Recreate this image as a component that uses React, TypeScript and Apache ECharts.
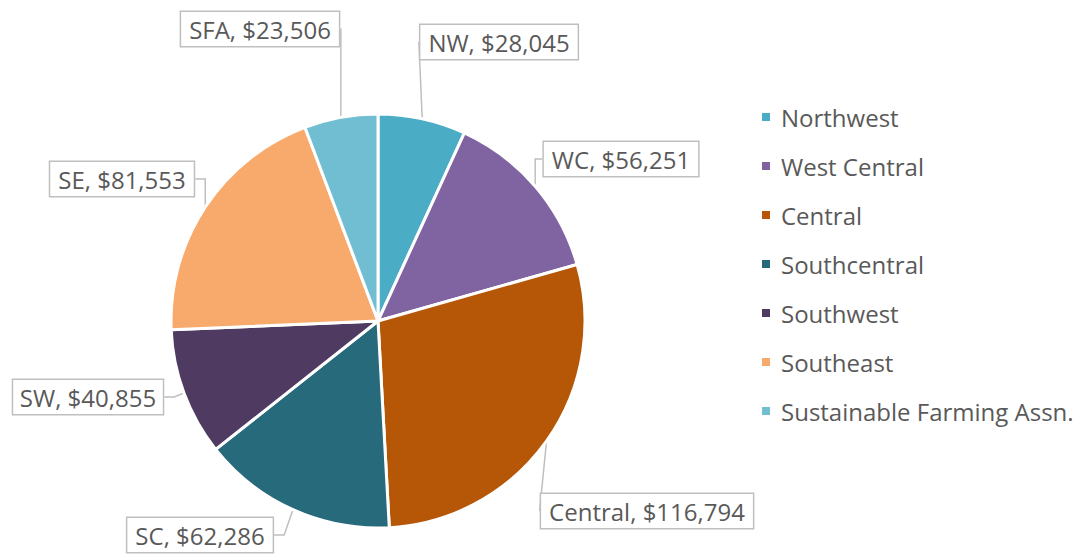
import React, { useEffect, useRef } from "react";
import * as echarts from "echarts";

const regions = ["Northwest", "West Central", "Central", "Southcentral", "Southwest", "Southeast", "Sustainable Farming Assn."];
const shortNames = ["NW", "WC", "Central", "SC", "SW", "SE", "SFA"];
const values = [28045, 56251, 116794, 62286, 40855, 81553, 23506];
const colors = ["#4BACC6", "#8064A2", "#B65708", "#276A7C", "#4F3B62", "#F8AA6C", "#71BDD1"];
// label box centres (layout only)
const labelCenters = [
  [499, 42],
  [621, 159],
  [647, 511],
  [200, 535],
  [88, 397],
  [122, 179],
  [260, 29],
];

export default function App() {
  const ref = useRef<HTMLDivElement>(null);
  useEffect(() => {
    const chart = echarts.init(ref.current!, null, { renderer: "svg" });
    const font = "Open Sans";
    chart.setOption({
      animation: false,
      color: colors,
      legend: {
        orient: "vertical",
        left: 755,
        top: 100,
        itemWidth: 10,
        itemHeight: 10,
        itemGap: 25,
        icon: "rect",
        textStyle: { fontFamily: font, fontSize: 24, color: "#595959", padding: [0, 0, 0, 5] },
        data: regions,
      },
      series: [
        {
          type: "pie",
          center: [378, 321],
          radius: 207,
          startAngle: 90,
          clockwise: true,
          itemStyle: { borderColor: "#fff", borderWidth: 3 },
          label: {
            show: true,
            position: "outside",
            overflow: "none",
            fontFamily: font,
            fontSize: 24,
            color: "#595959",
            backgroundColor: "#fff",
            borderColor: "#BFBFBF",
            borderWidth: 1.5,
            padding: [5, 8, 5, 8],
            formatter: (p: any) => `${shortNames[p.dataIndex]}, $${values[p.dataIndex].toLocaleString("en-US")}`,
          },
          labelLine: { show: true, length: 10, length2: 10, lineStyle: { color: "#BFBFBF", width: 1.5 } },
          labelLayout: (p: any) => {
            const c = labelCenters[p.dataIndex];
            return { x: c[0], y: c[1], align: "center", verticalAlign: "middle" };
          },
          data: regions.map((r, i) => ({ name: r, value: values[i] })),
        },
      ],
    });
    return () => chart.dispose();
  }, []);
  return <div ref={ref} style={{ width: 1079, height: 556, position: "absolute", left: 0, top: 0 }} />;
}
